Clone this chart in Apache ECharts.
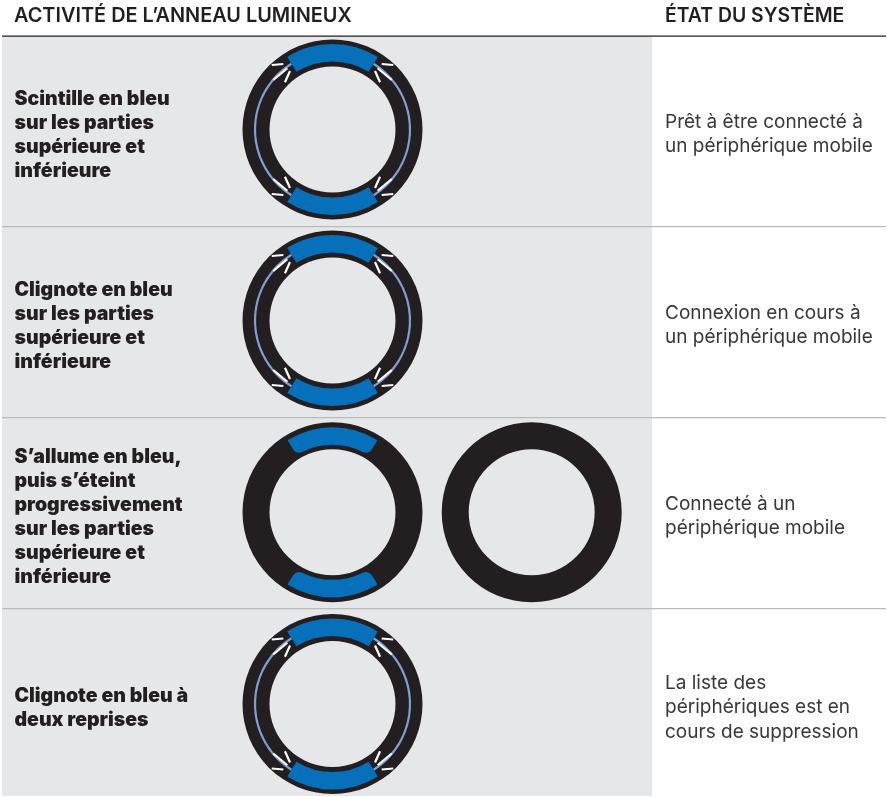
<!DOCTYPE html>
<html>
<head>
<meta charset="utf-8">
<style>html,body{margin:0;padding:0;background:#fff}#main{width:887px;height:797px}</style>
<script src="https://cdn.jsdelivr.net/npm/echarts@6/dist/echarts.min.js"></script>
</head>
<body>
<div id="main"></div>
<script>
let headers = ['ACTIVITÉ DE L’ANNEAU LUMINEUX', 'ÉTAT DU SYSTÈME'];
let activity_lines = [
    ['Scintille en bleu', 'sur les parties', 'supérieure et', 'inférieure'],
    ['Clignote en bleu', 'sur les parties', 'supérieure et', 'inférieure'],
    ['S’allume en bleu,', 'puis s’éteint', 'progressivement', 'sur les parties', 'supérieure et', 'inférieure'],
    ['Clignote en bleu à', 'deux reprises']
];
let state_lines = [
    ['Prêt à être connecté à', 'un périphérique mobile'],
    ['Connexion en cours à', 'un périphérique mobile'],
    ['Connecté à un', 'périphérique mobile'],
    ['La liste des', 'périphériques est en', 'cours de suppression']
];
// ring slices in degrees, clockwise from the left end of the top band
let band_sweep = [64, 116, 64, 116];
let sparkle_rings = [0, 1, 3];
// white ticks at the band ends: [radius, angle clockwise from top]
let sparkles = [
    [[88.6, 316.7], [81.9, 323.1]],
    [[77.2, 309.9], [76.1, 323.6]],
    [[67.0, 314.8], [72.3, 324.0]],
    [[88.6, 43.3], [81.9, 36.9]],
    [[77.2, 50.1], [76.1, 36.4]],
    [[67.0, 45.2], [72.3, 36.0]],
    [[88.6, 136.7], [81.9, 143.1]],
    [[77.2, 129.9], [76.1, 143.6]],
    [[67.0, 134.8], [72.3, 144.0]],
    [[88.6, 223.3], [81.9, 216.9]],
    [[77.2, 230.1], [76.1, 216.4]],
    [[67.0, 225.2], [72.3, 216.0]]
];

let ring_color = '#231f20', band_color = '#0670ba', thin_color = '#7d9fd5', panel_color = '#e6e7e9';
let ring_x = 332.5, off_ring_x = 531.7;
let ring_y = [129.5, 320.5, 512.3, 704];
let row_y = [131, 322, 513, 704];
let divider_y = [226, 417, 608];

function ring_pie(cx, cy, inner, outer, color) {
    return {
        type: 'pie', silent: true, center: [cx, cy], radius: [inner, outer],
        startAngle: 90, label: {show: false}, labelLine: {show: false},
        data: [{value: 360, itemStyle: {color: color}}]
    };
}

// shown: which slices get the colour, 0 = the top and bottom bands, 1 = the side arcs
function band_pie(cx, cy, inner, outer, color, corner, shown) {
    return {
        type: 'pie', silent: true, center: [cx, cy], radius: [inner, outer],
        startAngle: 122, label: {show: false}, labelLine: {show: false},
        itemStyle: {borderRadius: corner},
        data: band_sweep.map(function (v, i) {
            return {value: v, itemStyle: {color: i % 2 === shown ? color : 'transparent'}};
        })
    };
}

let series = [], polar = [], angleAxis = [], radiusAxis = [];
ring_y.forEach(function (cy, r) {
    series.push(ring_pie(ring_x, cy, 63, 90, ring_color));
    if (sparkle_rings.indexOf(r) >= 0) {
        series.push(band_pie(ring_x, cy, 76.4, 78.6, thin_color, 0, 1));
        series.push(band_pie(ring_x, cy, 68, 85.5, band_color, 0, 0));
    } else {
        series.push(band_pie(ring_x, cy, 67.5, 85, band_color, [7, 1], 0));
    }
});
series.push(ring_pie(off_ring_x, ring_y[2], 63, 90, ring_color));

sparkle_rings.forEach(function (r, k) {
    polar.push({center: [ring_x, ring_y[r]], radius: 90});
    angleAxis.push({polarIndex: k, type: 'value', min: 0, max: 360, startAngle: 90, clockwise: true, show: false});
    radiusAxis.push({polarIndex: k, type: 'value', min: 0, max: 90, show: false});
    sparkles.forEach(function (seg) {
        series.push({
            type: 'line', coordinateSystem: 'polar', polarIndex: k, silent: true, clip: false,
            showSymbol: false, symbol: 'none', data: seg, z: 5,
            lineStyle: {color: '#ffffff', width: 2.2, cap: 'butt'}
        });
    });
});

let graphics = [
    {type: 'rect', z: 0, shape: {x: 2, y: 36, width: 650, height: 760}, style: {fill: panel_color}},
    {type: 'rect', z: 1, shape: {x: 2, y: 35.5, width: 884, height: 1.3}, style: {fill: '#231f20'}}
];
divider_y.forEach(function (y) {
    graphics.push({type: 'rect', z: 1, shape: {x: 2, y: y, width: 884, height: 1.2}, style: {fill: '#b9babc'}});
});
function add_text(str, x, y, font, color) {
    graphics.push({type: 'text', z: 3, x: x, y: y, style: {
        text: str, fill: color, font: font, textAlign: 'left', textVerticalAlign: 'middle'
    }});
}
add_text(headers[0], 14, 16.5, '600 19.9px Inter', '#231f20');
add_text(headers[1], 665, 16.5, '600 19.4px Inter', '#231f20');
activity_lines.forEach(function (lines, r) {
    lines.forEach(function (t, i) {
        add_text(t, 14.5, row_y[r] + (i - (lines.length - 1) / 2) * 24 + 4, '900 19.5px Inter', '#231f20');
    });
});
state_lines.forEach(function (lines, r) {
    lines.forEach(function (t, i) {
        add_text(t, 665, row_y[r] + (i - (lines.length - 1) / 2) * 24.3 + 3.5, '400 19px Inter', '#3a3738');
    });
});

let chart = echarts.init(document.getElementById('main'), null, {renderer: 'canvas'});
chart.setOption({
    animation: false,
    backgroundColor: '#ffffff',
    graphic: graphics,
    polar: polar,
    angleAxis: angleAxis,
    radiusAxis: radiusAxis,
    series: series
});
</script>
</body>
</html>
